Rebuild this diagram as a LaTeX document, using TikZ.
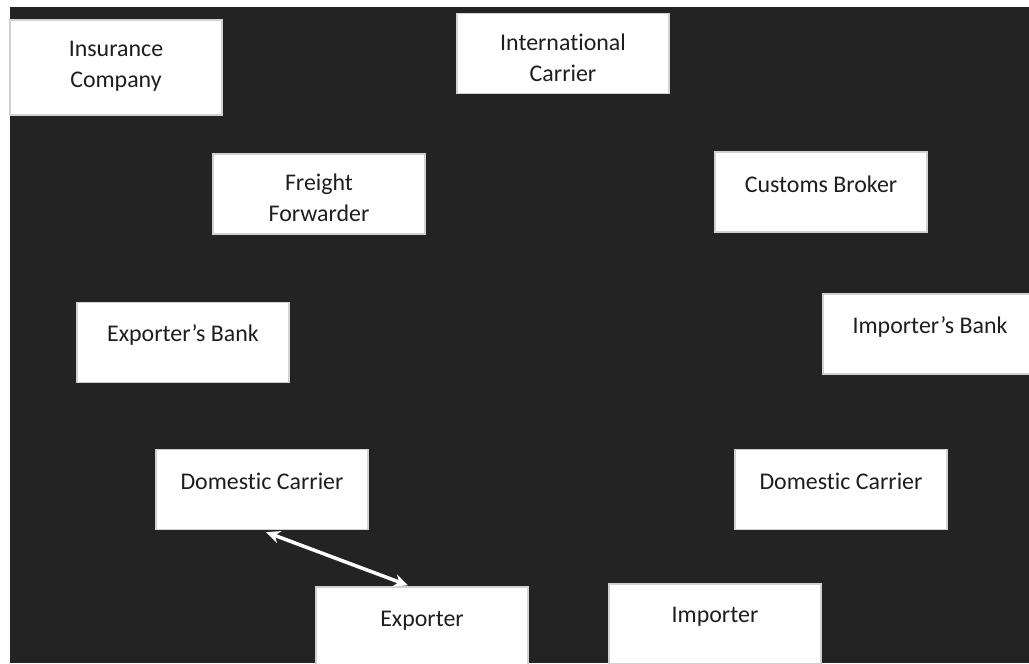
\documentclass[tikz,border=0pt]{standalone}
\usepackage{fontspec}
\setmainfont[Ligatures=NoCommon]{Carlito}
\usetikzlibrary{positioning,calc,arrows.meta}

\definecolor{boardbg}{HTML}{232323}
\definecolor{boxline}{HTML}{D2D2D2}
\definecolor{inktext}{HTML}{1E1E1E}

\begin{document}
\begin{tikzpicture}[x=0.025cm, y=-0.025cm,
    party/.style={draw=boxline, line width=0.9pt, fill=white,
                  minimum width=5.3cm, minimum height=2cm, inner sep=0pt},
    tag/.style={text=inktext, align=center, inner sep=0pt,
                font=\fontsize{17}{22}\selectfont},
    link/.style={draw=white, line width=2.5pt,
                 {Stealth[length=10pt,width=9pt]}-{Stealth[length=10pt,width=9pt]}}]
            \useasboundingbox (0,0) rectangle (1029,663);
            \clip (0,0) rectangle (1029,663);
            \fill[white] (0,0) rectangle (1029,663);
            \fill[boardbg] (10,7) rectangle (1029,663);

            % the boxes
            \node[party, minimum height=2.375cm] (ins) at (116,67.5) {};
            \node[party] (intl) at (563,53.5) {};
            \node[party] (ff) at (319,194) {};
            \node[party] (cb) at (821,192) {};
            \node[party] (eb) at (183,342.5) {};
            \node[party] (ib) at (929,334) {};
            \node[party] (dcl) at (262,489.5) {};
            \node[party] (dcr) at (841,489.5) {};
            \node[party] (exp) at (422,627) {};
            \node[party] (imp) at (715,624) {};

            % the texts
            \node[tag] (insT) at (116,66) {Insurance\\Company};
            \node[tag] (intlT) at (563,58) {International\\Carrier};
            \node[tag] (ffT) at (319,198) {Freight\\Forwarder};
            \node[tag] (cbT) at (821,184) {Customs Broker};
            \node[tag] (ebT) at (183,335) {Exporter’s Bank};
            \node[tag] (ibT) at (930,327) {Importer’s Bank};
            \node[tag] (dclT) at (262,481) {Domestic Carrier};
            \node[tag] (dcrT) at (841,481) {Domestic Carrier};
            \node[tag] (expT) at (422,621) {Exporter};
            \node[tag] (impT) at (715,617) {Importer};

            \draw[link] ($(dcl.south)+(4,2)$) -- ($(exp.north)+(-14,-1)$);

        \end{tikzpicture}
\end{document}
